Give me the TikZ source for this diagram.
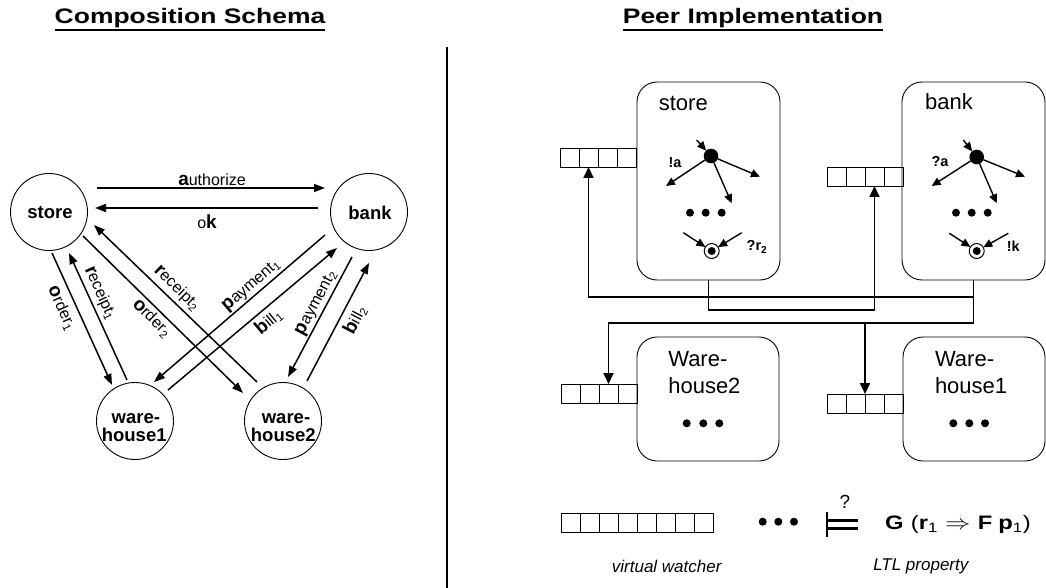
\documentclass[tikz,border=0pt]{standalone}
\usepackage{fontspec}
\setmainfont{Liberation Sans}
\usetikzlibrary{arrows.meta,calc}
\newcommand\firstL[1]{{\fontsize{19}{19}\selectfont\bfseries #1}}
\newcommand\queuecells[4]{\foreach \i in {1,...,#4}{\node[cell] (#1-\i) at ({#2+19*(\i-1)},#3) {};}}
\begin{document}
\begin{tikzpicture}[x=1pt,y=-1pt,
  every node/.style={inner sep=0pt, outer sep=0pt},
  ttl/.style={font=\fontsize{21}{24}\selectfont\bfseries, xscale=1.26, anchor=base},
  cnode/.style={circle, draw, line width=0.9pt, minimum size=77pt},
  ctext/.style={font=\fontsize{18.5}{18.5}\selectfont\bfseries, anchor=base},
  elbl/.style={font=\fontsize{16}{16}\selectfont},
  carr/.style={line width=1.5pt, -{Triangle[length=11pt,width=8pt]}},
  pbox/.style={draw, rounded corners=20pt, line width=0.9pt},
  btext/.style={font=\fontsize{22}{27}\selectfont},
  cell/.style={draw, line width=0.8pt, minimum width=19pt, minimum height=19pt, anchor=north west},
  conn/.style={line width=1.8pt},
  connarr/.style={conn, -{Triangle[length=11pt,width=10pt]}},
  sdot/.style={circle, fill, minimum size=14.6pt},
  fstate/.style={circle, draw, line width=1pt, fill=white, minimum size=15pt},
  sarr/.style={line width=1.4pt, -{Triangle[length=9pt,width=8pt]}},
  slbl/.style={font=\fontsize{14.5}{14.5}\selectfont\bfseries},
  itl/.style={font=\fontsize{17}{17}\selectfont\itshape},
  ]
\useasboundingbox (0,0) rectangle (1046,588);

% titles and divider
\node[ttl] (t1) at (190,24) {Composition Schema};
\draw[line width=1.6pt] ([yshift=-6pt]t1.base west) -- ([yshift=-6pt]t1.base east);
\node[ttl] (t2) at (753,24) {Peer Implementation};
\draw[line width=1.6pt] ([yshift=-6pt]t2.base west) -- ([yshift=-6pt]t2.base east);
\draw[line width=1.8pt] (447,47) -- (447,588);

% ---------- composition schema ----------
\node[cnode] (store) at (49,212) {};
\node[cnode] (bank) at (369,212) {};
\node[cnode] (wh1) at (135,421) {};
\node[cnode] (wh2) at (283,421) {};
\node[ctext] at (50,218.5) {store};
\node[ctext] at (370,219) {bank};
\node[ctext] at (135.8,423.3) {ware-};
\node[ctext] at (134.2,441.7) {house1};
\node[ctext] at (286,423.3) {ware-};
\node[ctext] at (283.3,441.7) {house2};

\draw[carr] ([shift={(48,-24)}]store.center) -- ([shift={(-44,-24)}]bank.center);
\draw[carr] ([shift={(-51,-4)}]bank.center) -- ([shift={(46,-4)}]store.center);
\draw[carr] ([shift={(3,41)}]store.center) -- ([shift={(-23,-36)}]wh1.center);
\draw[carr] ([shift={(-8,-41)}]wh1.center) -- ([shift={(20,41)}]store.center);
\draw[carr] ([shift={(34,24)}]store.center) -- ([shift={(-40,-28)}]wh2.center);
\draw[carr] ([shift={(-26,-39)}]wh2.center) -- ([shift={(45,13)}]store.center);
\draw[carr] ([shift={(-44,23)}]bank.center) -- ([shift={(19,-39)}]wh1.center);
\draw[carr] ([shift={(33,-31)}]wh1.center) -- ([shift={(-32,36)}]bank.center);
\draw[carr] ([shift={(-17,45)}]bank.center) -- ([shift={(5,-44)}]wh2.center);
\draw[carr] ([shift={(24,-40)}]wh2.center) -- ([shift={(0,51)}]bank.center);

\node[elbl] at (212,180) {\firstL{a}uthorize};
\node[elbl] at (207,222) {o\firstL{k}};
\node[elbl, rotate=-65.6] at (61.7,308.3) {\firstL{o}rder\textsubscript{1}};
\node[elbl, rotate=-65.8] at (100,293.3) {\firstL{r}eceipt\textsubscript{1}};
\node[elbl, rotate=-44.6] at (151.7,318.3) {\firstL{o}rder\textsubscript{2}};
\node[elbl, rotate=-44] at (176.7,288.3) {\firstL{r}eceipt\textsubscript{2}};
\node[elbl, rotate=40.8] at (251.7,286) {\firstL{p}ayment\textsubscript{1}};
\node[elbl, rotate=40] at (268.3,321.7) {\firstL{b}ill\textsubscript{1}};
\node[elbl, rotate=62] at (316.7,303.3) {\firstL{p}ayment\textsubscript{2}};
\node[elbl, rotate=62.5] at (355,320) {\firstL{b}ill\textsubscript{2}};

% ---------- peer implementation ----------
\node[pbox, minimum width=143pt, minimum height=198pt] (storebox) at (708.5,181) {};
\node[pbox, minimum width=143pt, minimum height=198pt] (bankbox) at (973.5,181) {};
\node[pbox, minimum width=142pt, minimum height=124pt] (whbox2) at (708,399) {};
\node[pbox, minimum width=142pt, minimum height=124pt] (whbox1) at (974,399) {};

\node[btext] at (683.3,103) {store};
\node[btext] at (949,102) {bank};
\node[btext, anchor=base west] at (668.3,366) {Ware-};
\node[btext, anchor=base west] at (668.3,393) {house2};
\node[btext, anchor=base west] at (935,366) {Ware-};
\node[btext, anchor=base west] at (935,393) {house1};

\queuecells{sq}{560}{148}{4}
\queuecells{bq}{827}{167}{4}
\queuecells{wqa}{561}{384}{4}
\queuecells{wqb}{827}{394}{4}
\queuecells{vq}{561}{513}{8}

\coordinate (bus1) at ($(bankbox.south)+(0,17)$);
\coordinate (bus3) at ($(bankbox.south)+(0,43)$);
\draw[connarr] (bankbox.south) -- (bus1) -| (sq-2.south);
\draw[connarr] (bus1) -- (bus3) -| (wqa-3.north);
\draw[connarr] (bus3 -| wqb-2.north east) -- (wqb-2.north east);
\draw[connarr] (storebox.south) -- ++(0,30) -| (bq-3.south);

% store machine
\node[sdot] (s0) at (711,156) {};
\coordinate (s0in) at (696.7,140);
\coordinate (s0a) at (666,186);
\coordinate (s0b) at (760,176.7);
\coordinate (s0c) at (731.7,203.3);
\draw[sarr] (s0in) -- (s0);
\draw[sarr] (s0) -- (s0a);
\draw[sarr] (s0) -- (s0b);
\draw[sarr] (s0) -- (s0c);
\node[slbl] at (675,163) {!a};
\foreach \x in {690,705.7,721.7} \fill (\x,212.7) circle (4pt);
\node[fstate] (sf) at (711.7,251) {};
\fill (sf.center) circle (4pt);
\coordinate (sfa) at (683.3,232.7);
\coordinate (sfb) at (741.7,232.7);
\draw[sarr] (sfa) -- (sf);
\draw[sarr] (sfb) -- (sf);
\node[slbl] at (757,247) {?r\textsubscript{2}};

% bank machine
\node[sdot] (b0) at (976.7,157) {};
\coordinate (b0in) at (963.3,140);
\coordinate (b0a) at (931.7,186);
\coordinate (b0b) at (1025,176.7);
\coordinate (b0c) at (996.7,203.3);
\draw[sarr] (b0in) -- (b0);
\draw[sarr] (b0) -- (b0a);
\draw[sarr] (b0) -- (b0b);
\draw[sarr] (b0) -- (b0c);
\node[slbl] at (940,161.7) {?a};
\foreach \x in {956,971.7,987.7} \fill (\x,212.7) circle (4pt);
\node[fstate] (bf) at (976.7,251) {};
\fill (bf.center) circle (4pt);
\coordinate (bfa) at (949.3,233.3);
\coordinate (bfb) at (1008.3,233.3);
\draw[sarr] (bfa) -- (bf);
\draw[sarr] (bfb) -- (bf);
\node[slbl] at (1013.3,246.7) {!k};

% warehouse dots
\foreach \x in {686.7,703.3,719.3} \fill (\x,423.3) circle (4pt);
\foreach \x in {953.3,969.3,985} \fill (\x,423.3) circle (4pt);

% bottom row
\foreach \x in {762.7,778.3,794} \fill (\x,521.7) circle (4pt);
\draw[line width=2.2pt] (826.7,511.7) -- (826.7,536.7);
\draw[line width=2.2pt] (826.7,520.5) -- (858.3,520.5);
\draw[line width=2.2pt] (826.7,528.5) -- (858.3,528.5);
\node[font=\fontsize{19}{19}\selectfont] at (845,502) {?};
\node[font=\fontsize{19.5}{19.5}\selectfont, xscale=1.22, anchor=base west] at (885,529.3)
  {\textbf{G}\hspace{6pt}(\textbf{r}\textsubscript{1}\hspace{6pt}$\Rightarrow$\hspace{6pt}\textbf{F}\hspace{5pt}\textbf{p}\textsubscript{1})};
\node[itl] at (666.7,566.7) {virtual watcher};
\node[itl] at (920.8,566.7) {LTL property};
\end{tikzpicture}
\end{document}
